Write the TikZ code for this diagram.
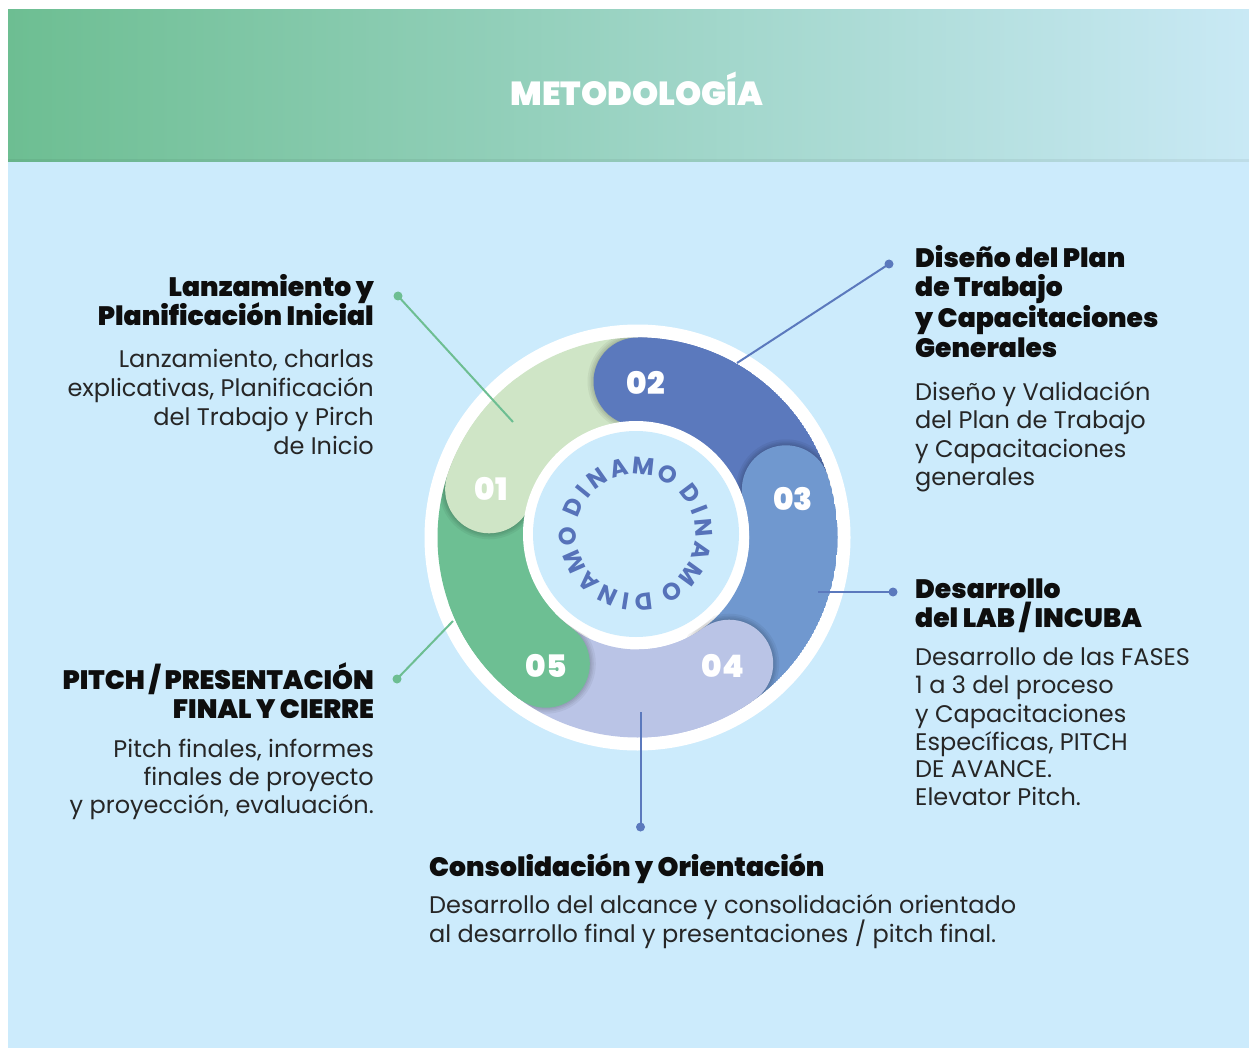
\documentclass[tikz,border=0pt]{standalone}
\usepackage{fontspec}
\newfontfamily\bdfont{Poppins}
\newfontfamily\hdfont{Poppins Black}
\newfontfamily\sbfont{Poppins Bold}
\usetikzlibrary{calc}
\definecolor{bgblue}{HTML}{CCEBFC}
\definecolor{hdgreen}{HTML}{6DBE92}
\definecolor{hdright}{HTML}{C9E9F5}
\definecolor{cA}{HTML}{CFE5C6}
\definecolor{cB}{HTML}{5B79BD}
\definecolor{cC}{HTML}{7098CF}
\definecolor{cD}{HTML}{BAC4E6}
\definecolor{cE}{HTML}{6DBF93}
\definecolor{dinamo}{HTML}{5672B9}
\definecolor{headtxt}{HTML}{0E0E0E}
\definecolor{bodytxt}{HTML}{262626}
\definecolor{lineg}{HTML}{6DBE92}
\definecolor{lineb}{HTML}{5B79BD}
\begin{document}
\begin{tikzpicture}[x=1pt,y=-1pt,
  hd/.style={font=\hdfont\fontsize{26.6}{29}\selectfont, text=headtxt, inner sep=0pt},
  bd/.style={font=\bdfont\fontsize{24}{28}\selectfont, text=bodytxt, inner sep=0pt},
  hdR/.style={hd, anchor=base east}, hdL/.style={hd, anchor=base west},
  bdR/.style={bd, anchor=base east}, bdL/.style={bd, anchor=base west},
  num/.style={font=\hdfont\fontsize{31}{31}\selectfont, text=white, inner sep=0pt},
  dletter/.style={font=\sbfont\fontsize{24}{24}\selectfont, text=dinamo, inner sep=0pt},
  gdot/.style={circle, fill=lineg, minimum size=9pt, inner sep=0pt},
  bdot/.style={circle, fill=lineb, minimum size=9pt, inner sep=0pt},
  gline/.style={draw=lineg, line width=2pt},
  bline/.style={draw=lineb, line width=2pt},
]
\useasboundingbox (0,0) rectangle (1249,1048);
\fill[white] (0,0) rectangle (1249,1048);
% background and header
\fill[bgblue] (8,162) rectangle (1249,1048);
\shade[left color=hdgreen, right color=hdright] (8,10) rectangle (1249,162);
\fill[black, opacity=0.05] (8,159) rectangle (1249,162);
\node[font=\hdfont\fontsize{33.3}{33}\selectfont, text=white, anchor=base, inner sep=0pt] (title) at (637,106) {METODOLOGÍA};

% ring
\coordinate (c) at (637.5,537.5);
\coordinate (ci) at (636,534);
\fill[white] (c) circle[radius=213];
\begin{scope}
\clip (c) circle[radius=200];
\foreach \a/\col in {162/cA, 90/cB, 18/cC, -54/cD, -126/cE} {
  \draw[line width=88pt, \col] ([shift={(-\a:156)}]c) arc[start angle=-\a, end angle=-\a+72, radius=156];
}
\foreach \a/\col in {162/cA, 90/cB, 18/cC, -54/cD, -126/cE} {
  \foreach \rr in {45,46.5,48,50} {
    \fill[black, opacity=0.05] ([shift={(-\a:156)}]c) circle[radius=\rr];
  }
  \fill[\col] ([shift={(-\a:156)}]c) circle[radius=44];
  \draw[line width=88pt, \col] ([shift={(-\a:156)}]c) arc[start angle=-\a, end angle=-\a+35, radius=156];
}
\end{scope}
\fill[white] (ci) circle[radius=113];
\fill[bgblue] (ci) circle[radius=103];

% DINAMO letters
\foreach \k in {0,1,2} {
  \foreach \ch/\b in {D/157, I/141, N/125, A/105, M/84, O/62} {
    \pgfmathsetmacro{\ang}{\b-120*\k}
    \node[dletter, rotate=\ang-90] (L\k\ch) at ([shift={(-\ang:68)}]ci) {\ch};
  }
}

% numbers
\node[num] (n1) at (491,489) {01};
\node[num] (n2) at (646,383) {02};
\node[num] (n3) at (793,499) {03};
\node[num] (n4) at (723,666) {04};
\node[num] (n5) at (546,666) {05};

% connectors
\node[gdot] (d1) at (398,296) {};
\coordinate (e1) at (513,422);
\draw[gline] (d1.center) -- (e1);
\node[bdot] (d2) at (889,264) {};
\coordinate (e2) at (737,363);
\draw[bline] (d2.center) -- (e2);
\node[bdot] (d3) at (893,592) {};
\coordinate (e3) at (818,592);
\draw[bline] (d3.center) -- (e3);
\node[bdot] (d4) at (640.5,827) {};
\coordinate (e4) at (640.5,712);
\draw[bline] (d4.center) -- (e4);
\node[gdot] (d5) at (397,679) {};
\coordinate (e5) at (453,621);
\draw[gline] (d5.center) -- (e5);

% block 1
\node[hdR] (h1a) at (374,297) {Lanzamiento y};
\node[hdR] (h1b) at (374,326) {Planificación Inicial};
\node[bdR] (b1a) at (374,367) {Lanzamiento, charlas};
\node[bdR] (b1b) at (374,396.5) {explicativas, Planificación};
\node[bdR] (b1c) at (374,425.5) {del Trabajo y Pirch};
\node[bdR] (b1d) at (374,454.5) {de Inicio};

% block 2
\node[hdL] (h2a) at (915,268) {Diseño del Plan};
\node[hdL] (h2b) at (915,297) {de Trabajo};
\node[hdL] (h2c) at (915,327) {y Capacitaciones};
\node[hdL] (h2d) at (915,357) {Generales};
\node[bdL] (b2a) at (915,400) {Diseño y Validación};
\node[bdL] (b2b) at (915,428.5) {del Plan de Trabajo};
\node[bdL] (b2c) at (915,457) {y Capacitaciones};
\node[bdL] (b2d) at (915,485.5) {generales};

% block 3
\node[hdL] (h3a) at (915,598) {Desarrollo};
\node[hdL] (h3b) at (915,627) {del LAB / INCUBA};
\node[bdL] (b3a) at (915,665) {Desarrollo de las FASES};
\node[bdL] (b3b) at (915,693.5) {1 a 3 del proceso};
\node[bdL] (b3c) at (915,722) {y Capacitaciones};
\node[bdL] (b3d) at (915,750) {Específicas, PITCH};
\node[bdL] (b3e) at (915,777.5) {DE AVANCE.};
\node[bdL] (b3f) at (915,805.5) {Elevator Pitch.};

% block 4
\node[hdR] (h4a) at (374,689) {PITCH / PRESENTACIÓN};
\node[hdR] (h4b) at (374,718) {FINAL Y CIERRE};
\node[bdR] (b4a) at (374,757) {Pitch finales, informes};
\node[bdR] (b4b) at (374,785) {finales de proyecto};
\node[bdR] (b4c) at (374,813.5) {y proyección, evaluación.};

% block 5
\node[hdL] (h5a) at (429,876) {Consolidación y Orientación};
\node[bdL] (b5a) at (429,913.5) {Desarrollo del alcance y consolidación orientado};
\node[bdL] (b5b) at (429,942.5) {al desarrollo final y presentaciones / pitch final.};
\end{tikzpicture}
\end{document}
